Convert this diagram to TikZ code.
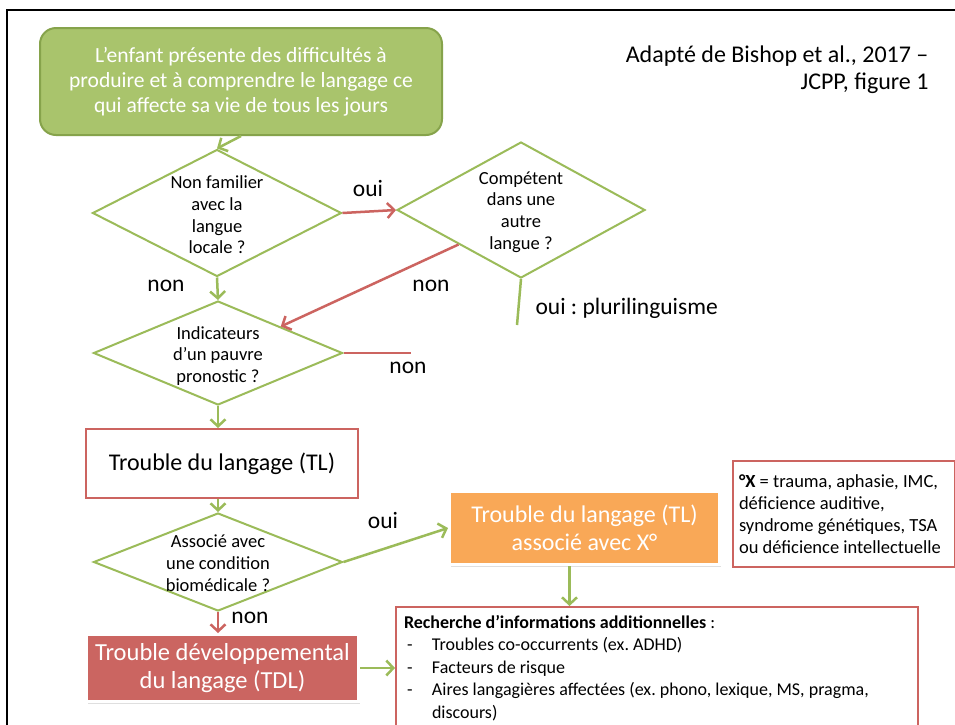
\documentclass[tikz,border=0pt]{standalone}
\usepackage{fontspec}
\setmainfont{Carlito}
\usepackage{xcolor}
\usepackage{tikz}
\usetikzlibrary{arrows.meta,shapes.geometric,shadows}
\frenchspacing
\definecolor{tlgreen}{HTML}{9BBB59}
\definecolor{tlgreendark}{HTML}{86A34B}
\definecolor{tltop}{HTML}{A9C46C}
\definecolor{tlred}{HTML}{CC6460}
\definecolor{tdlfill}{HTML}{CB6561}
\definecolor{tlorange}{HTML}{F9A857}
\tikzset{
        question/.style={diamond, draw=tlgreen, line width=2pt, fill=white, inner sep=0pt},
        qtext/.style={align=center, font=\fontsize{18.5}{21.7}\selectfont},
        answer/.style={font=\fontsize{23.5}{26}\selectfont},
        garrow/.style={draw=tlgreen, line width=2.5pt, -{Straight Barb[length=7pt,width=15pt]}},
        rarrow/.style={draw=tlred, line width=2.5pt, -{Straight Barb[length=7pt,width=15pt]}},
        gline/.style={draw=tlgreen, line width=2.5pt},
        rline/.style={draw=tlred, line width=2.5pt},
        redbox/.style={rectangle, draw=tlred, line width=2pt, fill=white},
        shadebox/.style={rectangle, draw=white, line width=3pt, text=white,
            drop shadow={shadow xshift=1pt, shadow yshift=-2.5pt, opacity=0.25}}
    }

\begin{document}
\begin{tikzpicture}[x=1pt,y=-1pt]
            \useasboundingbox (0,0) rectangle (955,724);
            \fill[white] (0,0) rectangle (955,724);
            \draw[line width=2pt] (7,730) -- (7,10) -- (960,10);
            \node[rectangle, rounded corners=16pt, draw=tlgreendark, line width=2pt, fill=tltop, text=white,
                  minimum width=402pt, minimum height=107pt, align=center,
                  font=\fontsize{21.6}{25}\selectfont] (start) at (241,81.5)
                  {L’enfant présente des difficultés à\\produire et à comprendre le langage ce\\qui affecte sa vie de tous les jours};
            \node[align=right, anchor=east, font=\fontsize{24}{27}\selectfont] (source) at (932,70)
                  {Adapté de Bishop et al., 2017 –\\JCPP, figure 1};
            \node[question, minimum width=249pt, minimum height=127pt] (q1) at (217,213) {};
            \node[qtext] (q1text) at (217,215) {Non familier\\avec la\\langue\\locale ?};
            \node[question, minimum width=248pt, minimum height=136pt] (q2) at (521,210) {};
            \node[qtext] (q2text) at (521,212) {Compétent\\dans une\\autre\\langue ?};
            \node[question, minimum width=249pt, minimum height=104pt] (q3) at (218,353) {};
            \node[qtext] (q3text) at (218,356) {Indicateurs\\d’un pauvre\\pronostic ?};
            \node[question, minimum width=249pt, minimum height=98pt] (q4) at (218,562) {};
            \node[qtext] (q4text) at (218,563) {Associé avec\\une condition\\biomédicale ?};
            \node[redbox, minimum width=272pt, minimum height=69pt, font=\fontsize{24}{28}\selectfont] (tl) at (222,463.5)
                  {Trouble du langage (TL)};
            \node[shadebox, fill=tlorange, minimum width=270pt, minimum height=73pt, align=center,
                  font=\fontsize{24}{28}\selectfont] (tlx) at (584.5,528)
                  {Trouble du langage (TL)\\associé avec X°};
            \node[shadebox, fill=tdlfill, minimum width=272pt, minimum height=67pt, align=center,
                  font=\fontsize{24.5}{28}\selectfont] (tdl) at (222.5,668)
                  {Trouble développemental\\du langage (TDL)};
            \node[redbox, anchor=north west, minimum width=222pt, minimum height=106pt, text width=210pt,
                  inner xsep=6pt, align=flush left, font=\fontsize{18.5}{22}\selectfont] (note) at (732,460)
                  {\textbf{°X} = trauma, aphasie, IMC,\\déficience auditive,\\syndrome génétiques, TSA\\ou déficience intellectuelle};
            \node[redbox, anchor=north west, minimum width=522pt, text width=506pt, inner xsep=8pt, inner ysep=8pt,
                  align=flush left, font=\fontsize{18}{22.6}\selectfont] (info) at (395,606)
                  {\textbf{Recherche d’informations additionnelles} :\\
                   \makebox[28pt][l]{\hspace{3pt}-}Troubles co-occurrents (ex. ADHD)\\
                   \makebox[28pt][l]{\hspace{3pt}-}Facteurs de risque\\
                   \makebox[28pt][l]{\hspace{3pt}-}Aires langagières affectées (ex. phono, lexique, MS, pragma,\\
                   \hspace*{28pt}discours)};
            \coordinate (plurend) at (517,325);
            \coordinate (q3end) at (411,353);
            \coordinate (tlxfoot) at ([xshift=-15pt]tlx.south);
            \draw[garrow] (start.south) -- (q1.north);
            \draw[rarrow] (q1.east) -- (q2.west);
            \draw[rarrow] (q2.south west) -- (q3.north east);
            \draw[gline] (q2.south) -- (plurend);
            \draw[garrow] (q1.south) -- (q3.north);
            \draw[rline] (q3.east) -- (q3end);
            \draw[garrow] (q3.south) -- (tl.north -| q3.south);
            \draw[garrow] (tl.south -| q4.north) -- (q4.north);
            \draw[garrow] (q4.east) -- (tlx.west);
            \draw[rarrow] (q4.south) -- (tdl.north -| q4.south);
            \draw[garrow] (tlxfoot) -- (tlxfoot |- info.north);
            \draw[garrow] (tdl.east) -- (tdl.east -| info.west);
            \node[answer] (oui1) at (368,188) {oui};
            \node[answer] (non1) at (166,286) {non};
            \node[answer] (non2) at (431,286) {non};
            \node[answer, anchor=west] (oui2) at (532,308) {oui : plurilinguisme};
            \node[answer] (non3) at (408,368) {non};
            \node[answer] (oui3) at (383,520) {oui};
            \node[answer] (non4) at (250,618) {non};
          \end{tikzpicture}
\end{document}
